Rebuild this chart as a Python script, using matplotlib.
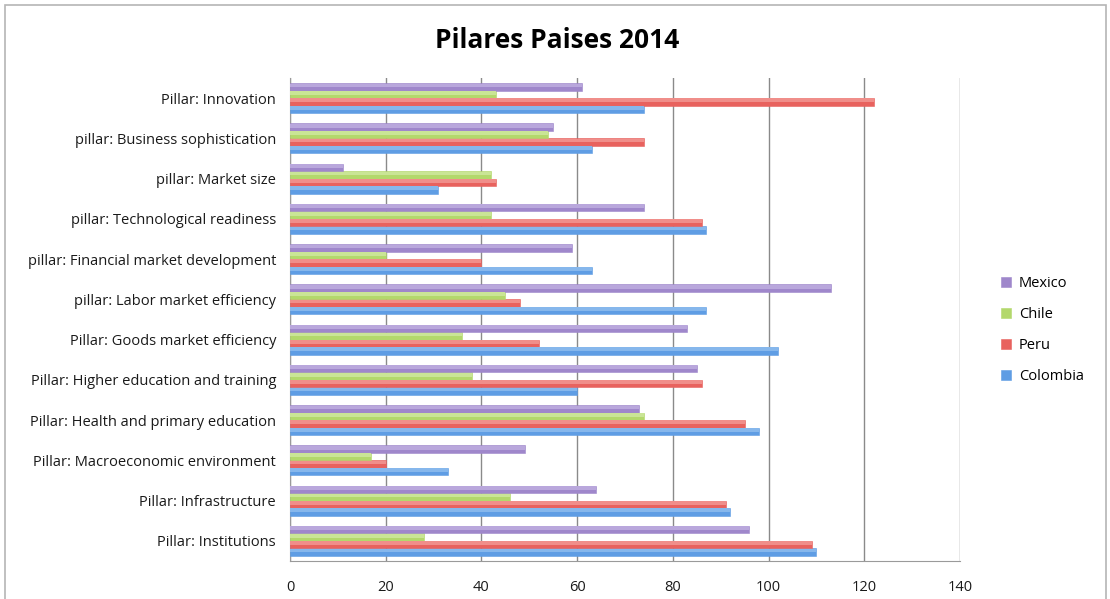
import matplotlib.pyplot as plt
import numpy as np
from matplotlib.patches import Rectangle

plt.rcParams['font.family'] = ['Open Sans', 'DejaVu Sans']

# categories from bottom to top
pillars = [
    'Pillar: Institutions',
    'Pillar: Infrastructure',
    'Pillar: Macroeconomic environment',
    'Pillar: Health and primary education',
    'Pillar: Higher education and training',
    'Pillar: Goods market efficiency',
    'pillar: Labor market efficiency',
    'pillar: Financial market development',
    'pillar: Technological readiness',
    'pillar: Market size',
    'pillar: Business sophistication',
    'Pillar: Innovation',
]

colombia = [110, 92, 33, 98, 60, 102, 87, 63, 87, 31, 63, 74]
peru = [109, 91, 20, 95, 86, 52, 48, 40, 86, 43, 74, 122]
chile = [28, 46, 17, 74, 38, 36, 45, 20, 42, 42, 54, 43]
mexico = [96, 64, 49, 73, 85, 83, 113, 59, 74, 11, 55, 61]

series = [
    ('Colombia', colombia, '#5f9de4', '#86b7ec'),
    ('Peru', peru, '#e8625e', '#f08e8a'),
    ('Chile', chile, '#b3d86c', '#cae596'),
    ('Mexico', mexico, '#9f87cb', '#b9a7dc'),
]

BAR_H = 0.186


def main() -> None:
    fig = plt.figure(figsize=(11.10, 5.99), dpi=100)
    ax = fig.add_axes([290 / 1110, 1 - 561 / 599, 670 / 1110, 483 / 599])

    y = np.arange(len(pillars))
    handles = []
    for i, (name, vals, col, light) in enumerate(series):
        off = (i - 1.5) * BAR_H
        h = ax.barh(y + off, vals, height=BAR_H, color=col, zorder=3,
                    linewidth=0.4, edgecolor=col, label=name)
        # lighter upper half to mimic the glossy gradient
        ax.barh(y + off + BAR_H * 0.2, vals, height=BAR_H * 0.5,
                color=light, zorder=4, linewidth=0)
        handles.append(h)

    ax.set_xlim(0, 140)
    ax.set_ylim(-0.5, len(pillars) - 0.5)
    ax.set_xticks(range(0, 141, 20))
    ax.set_yticks(y)
    ax.set_yticklabels(pillars)
    ax.tick_params(axis='both', length=0, labelsize=10.5, colors='#1a1a1a')
    ax.tick_params(axis='x', pad=14)
    ax.tick_params(axis='y', pad=10)
    ax.grid(axis='x', color='#8a8a8a', linewidth=1, zorder=0)
    for side in ('top', 'right'):
        ax.spines[side].set_visible(False)
    for side in ('left', 'bottom'):
        ax.spines[side].set_color('#9a9a9a')

    fig.text(557 / 1110, 1 - 40 / 599, 'Pilares Paises 2014', ha='center',
             va='center', fontsize=19, fontweight='bold')

    fig.legend(handles[::-1], [s[0] for s in series[::-1]],
               loc='center left', bbox_to_anchor=(988 / 1110, 1 - 330 / 599),
               frameon=False, fontsize=10.5, handlelength=0.7,
               handleheight=0.7, labelspacing=1.1, handletextpad=0.5)

    fig.patches.append(Rectangle((5 / 1110, -0.1), 1101 / 1110, 1.1 - 5 / 599,
                                 transform=fig.transFigure, fill=False,
                                 edgecolor='#b5b5b5', linewidth=1.2))

    fig.savefig('out.png', dpi=100)


if __name__ == '__main__':
    main()
